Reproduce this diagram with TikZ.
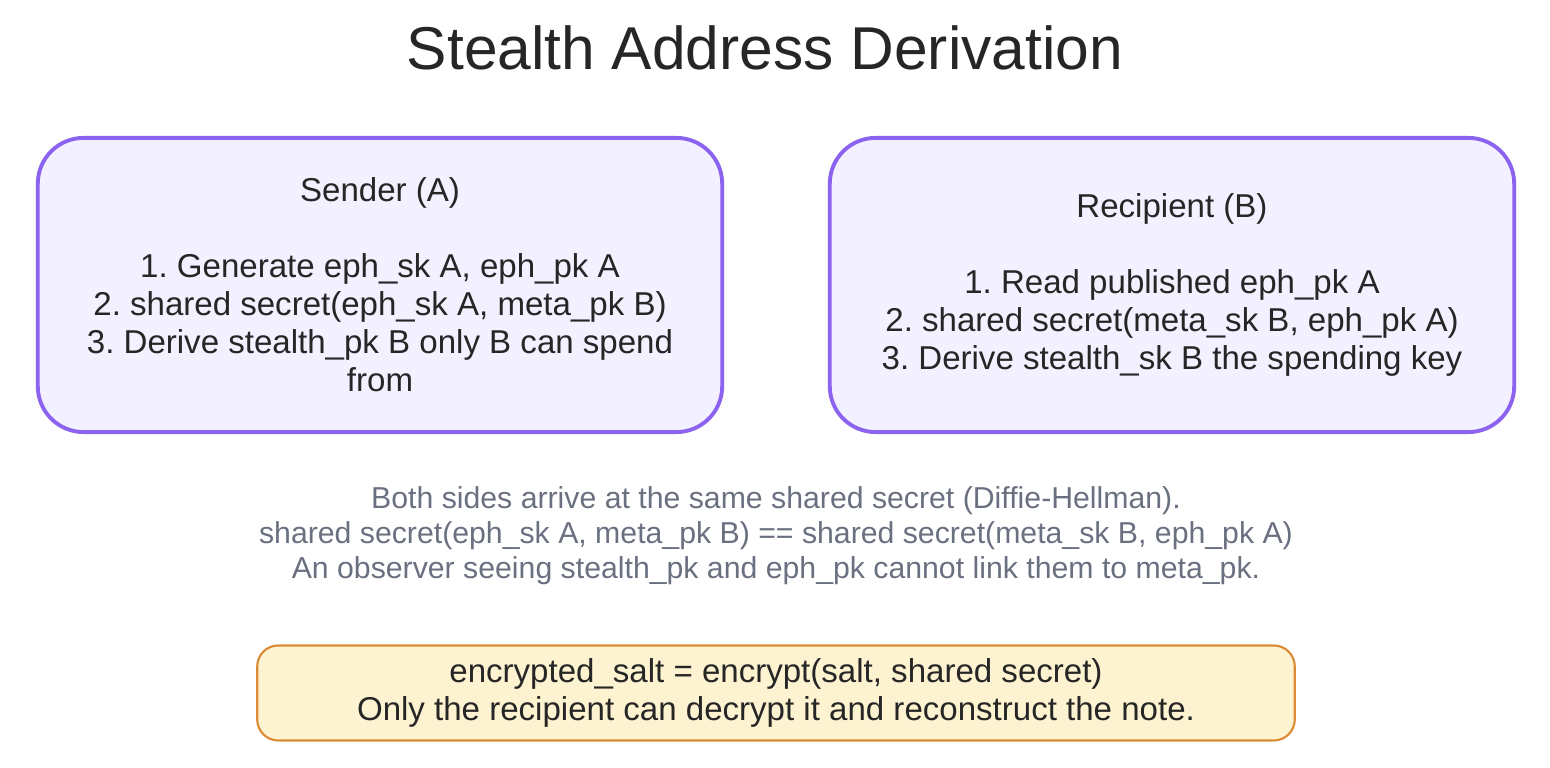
\documentclass[tikz,border=0pt]{standalone}
\usepackage{fontspec}
\setmainfont{Liberation Sans}
\frenchspacing
\usetikzlibrary{positioning}
\definecolor{boxline}{HTML}{8B63EE}
\definecolor{boxfill}{HTML}{F3F0FF}
\definecolor{noteline}{HTML}{DB8A35}
\definecolor{notefill}{HTML}{FDF3D0}
\definecolor{graytext}{HTML}{6A7080}
\tikzset{
  party/.style={draw=boxline,fill=boxfill,line width=1.1pt,rounded corners=13pt,
    minimum width=6.84cm,minimum height=2.94cm},
  partytext/.style={align=center,font={\fontsize{9.4}{10.8}\selectfont},text=black!85},
  notebox/.style={draw=noteline,fill=notefill,line width=0.6pt,rounded corners=6pt,
    minimum width=10.37cm,minimum height=0.95cm}
}
\begin{document}
\begin{tikzpicture}[x=0.01cm,y=-0.01cm]
\useasboundingbox (0,0) rectangle (1550,768);
\node[text=black!85] (title) at (765,48) {\fontsize{17.2}{20}\selectfont Stealth Address Derivation};
\node[party] (sender) at (380,285) {};
\node[party] (recipient) at (1172,285) {};
\node[partytext] (sendertext) at (380,285) {Sender (A)\\[10.8pt]
  1. Generate eph\_sk A, eph\_pk A\\
  2. shared secret(eph\_sk A, meta\_pk B)\\
  3. Derive stealth\_pk B only B can spend\\
  from};
\node[partytext] (recipienttext) at (1172,285) {Recipient (B)\\[10.8pt]
  1. Read published eph\_pk A\\
  2. shared secret(meta\_sk B, eph\_pk A)\\
  3. Derive stealth\_sk B the spending key};
\node[align=center,text=graytext,font={\fontsize{8.6}{9.9}\selectfont}] (dh) at (776,536)
  {Both sides arrive at the same shared secret (Diffie-Hellman).\\
   shared secret(eph\_sk A, meta\_pk B) == shared secret(meta\_sk B, eph\_pk A)\\
   An observer seeing stealth\_pk and eph\_pk cannot link them to meta\_pk.};
\node[notebox] (salt) at (776,693) {};
\node[partytext] (salttext) at (776,693) {encrypted\_salt = encrypt(salt, shared secret)\\
  Only the recipient can decrypt it and reconstruct the note.};
\end{tikzpicture}
\end{document}
